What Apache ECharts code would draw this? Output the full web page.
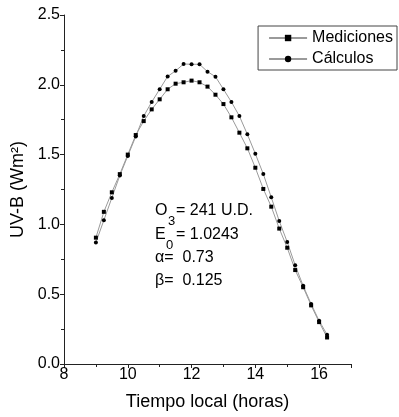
<!DOCTYPE html>
<html>
<head>
<meta charset="utf-8">
<script src="https://cdn.jsdelivr.net/npm/echarts@6/dist/echarts.min.js"></script>
<style>
  html, body { margin: 0; padding: 0; background: #fff; }
  #chart { width: 399px; height: 417px; }
</style>
</head>
<body>
<div id="chart"></div>
<script>
// hora local
const horas = [9.0, 9.25, 9.5, 9.75, 10.0, 10.25, 10.5, 10.75, 11.0, 11.25, 11.5, 11.75,
  12.0, 12.25, 12.5, 12.75, 13.0, 13.25, 13.5, 13.75, 14.0, 14.25, 14.5, 14.75,
  15.0, 15.25, 15.5, 15.75, 16.0, 16.25];

const mediciones = [0.905, 1.09, 1.23, 1.36, 1.50, 1.64, 1.74, 1.824, 1.896, 1.968, 2.008, 2.018,
  2.03, 2.018, 1.987, 1.929, 1.862, 1.767, 1.657, 1.545, 1.406, 1.254, 1.127, 0.97,
  0.833, 0.673, 0.55, 0.42, 0.30, 0.19];

const calculos = [0.87, 1.03, 1.19, 1.35, 1.49, 1.63, 1.776, 1.877, 1.968, 2.06, 2.10, 2.149,
  2.147, 2.147, 2.094, 2.058, 1.968, 1.877, 1.776, 1.645, 1.506, 1.361, 1.194, 1.024,
  0.874, 0.707, 0.56, 0.43, 0.31, 0.21];

const font = 'Liberation Sans, Arial, sans-serif';
const pair = (ys) => horas.map((h, i) => [h, ys[i]]);

const chart = echarts.init(document.getElementById('chart'));

chart.setOption({
  animation: false,
  grid: { left: 64, right: 48, top: 15, bottom: 53 },
  legend: {
    right: 2,
    top: 26,
    orient: 'vertical',
    itemWidth: 38,
    itemHeight: 8,
    itemGap: 5,
    padding: [4, 4, 3, 10],
    borderColor: '#444',
    borderWidth: 1,
    borderRadius: 0,
    textStyle: { fontFamily: font, fontSize: 16, color: '#000' },
    data: ['Mediciones', 'Cálculos']
  },
  xAxis: {
    type: 'value',
    min: 8, max: 17, interval: 2,
    name: 'Tiempo local (horas)',
    nameLocation: 'middle',
    nameGap: 29,
    nameTextStyle: { fontFamily: font, fontSize: 18, color: '#000' },
    axisLine: { lineStyle: { color: '#222', width: 1 } },
    axisTick: { length: 4, lineStyle: { color: '#222' } },
    minorTick: { show: true, splitNumber: 2, length: 3, lineStyle: { color: '#222' } },
    splitLine: { show: false },
    axisLabel: {
      fontFamily: font, fontSize: 16, color: '#000', margin: 3,
      formatter: (v) => v <= 16 ? String(v) : ''
    }
  },
  yAxis: {
    type: 'value',
    min: 0, max: 2.5, interval: 0.5,
    name: 'UV-B (Wm²)',
    nameLocation: 'middle',
    nameGap: 37,
    nameTextStyle: { fontFamily: font, fontSize: 18, color: '#000' },
    axisLine: { show: true, lineStyle: { color: '#222', width: 1 } },
    axisTick: { show: true, length: 4, lineStyle: { color: '#222' } },
    minorTick: { show: true, splitNumber: 2, length: 3, lineStyle: { color: '#222' } },
    splitLine: { show: false },
    axisLabel: {
      fontFamily: font, fontSize: 16, color: '#000', margin: 4,
      formatter: (v) => v.toFixed(1)
    }
  },
  series: [
    {
      name: 'Mediciones',
      type: 'line',
      data: pair(mediciones),
      symbol: 'rect',
      symbolSize: 4,
      lineStyle: { color: '#9a9a9a', width: 1 },
      itemStyle: { color: '#000' }
    },
    {
      name: 'Cálculos',
      type: 'line',
      data: pair(calculos),
      symbol: 'circle',
      symbolSize: 4,
      lineStyle: { color: '#9a9a9a', width: 1 },
      itemStyle: { color: '#000' }
    }
  ],
  graphic: [
    { type: 'text', left: 155, top: 203, style: { text: 'O', font: '16px ' + font, fill: '#000' } },
    { type: 'text', left: 168, top: 215, style: { text: '3', font: '13px ' + font, fill: '#000' } },
    { type: 'text', left: 176, top: 203, style: { text: '= 241 U.D.', font: '16px ' + font, fill: '#000' } },
    { type: 'text', left: 155, top: 227, style: { text: 'E', font: '16px ' + font, fill: '#000' } },
    { type: 'text', left: 166, top: 239, style: { text: '0', font: '13px ' + font, fill: '#000' } },
    { type: 'text', left: 176, top: 227, style: { text: '= 1.0243', font: '16px ' + font, fill: '#000' } },
    { type: 'text', left: 155, top: 250, style: { text: 'α=  0.73', font: '16px ' + font, fill: '#000' } },
    { type: 'text', left: 155, top: 273, style: { text: 'β=  0.125', font: '16px ' + font, fill: '#000' } }
  ]
});
</script>
</body>
</html>
